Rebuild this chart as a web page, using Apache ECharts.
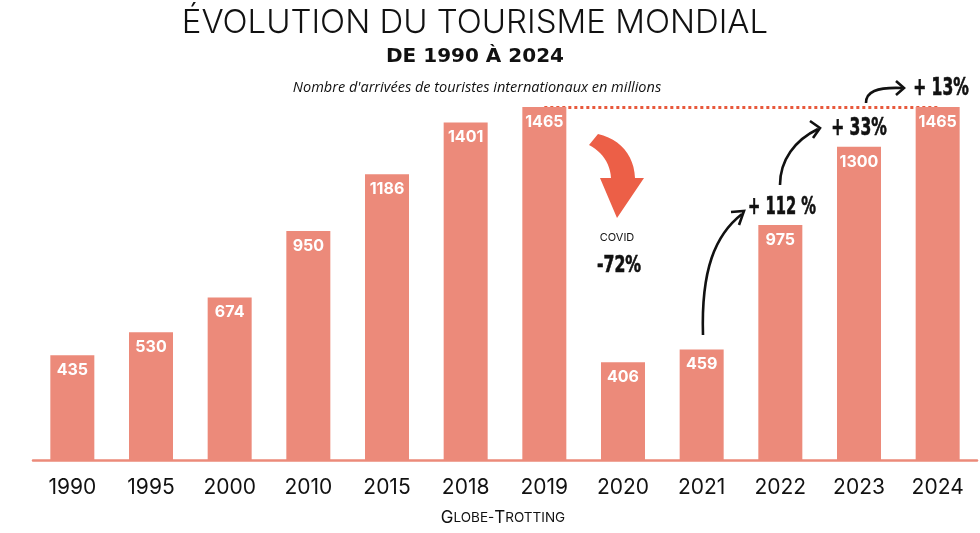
<!DOCTYPE html>
<html>
<head>
	<meta charset="utf-8" />
	<script src="https://cdn.jsdelivr.net/npm/echarts@6/dist/echarts.min.js"></script>
</head>
<body style="margin: 0; background-color: #ffffff">
	<div id="main" style="width: 980px; height: 533px;"></div>
</body>
<script type="text/javascript">
	var years = ['1990', '1995', '2000', '2010', '2015', '2018', '2019', '2020', '2021', '2022', '2023', '2024'];
	var arrivals = [435, 530, 674, 950, 1186, 1401, 1465, 406, 459, 975, 1300, 1465];
	var growth = ['+ 112 %', '+ 33%', '+ 13%'];

	var barColor = '#ec8a7a';
	var arrowRed = '#ec5f47';
	var geo = 'Inter, "Noto Sans", sans-serif';
	var narrow = '"DejaVu Sans Condensed", sans-serif';

	var myChart = echarts.init(document.getElementById('main'));

	// sample a cubic bezier into points (for the filled covid arrow)
	function bez(p0, p1, p2, p3, n) {
		var out = [];
		for (var i = 0; i <= n; i++) {
			var t = i / n, u = 1 - t;
			out.push([
				u * u * u * p0[0] + 3 * u * u * t * p1[0] + 3 * u * t * t * p2[0] + t * t * t * p3[0],
				u * u * u * p0[1] + 3 * u * u * t * p1[1] + 3 * u * t * t * p2[1] + t * t * t * p3[1]
			]);
		}
		return out;
	}

	var covidShape = [].concat(
		bez([598, 134], [620, 139], [634, 155], [635, 178], 12),
		[[644, 178], [617, 218], [600, 178], [611, 178]],
		bez([611, 178], [610, 163], [602, 152], [589, 145], 12)
	);

	function blackArrow(pts, tip, arm1, arm2) {
		return [{
			type: 'bezierCurve',
			shape: { x1: pts[0][0], y1: pts[0][1], cpx1: pts[1][0], cpy1: pts[1][1], cpx2: pts[2][0], cpy2: pts[2][1], x2: pts[3][0], y2: pts[3][1] },
			style: { stroke: '#111', lineWidth: 2.6, fill: null }
		}, {
			type: 'polyline',
			shape: { points: [arm1, tip, arm2] },
			style: { stroke: '#111', lineWidth: 2.6, fill: null, lineJoin: 'miter' }
		}];
	}

	// condensed heavy annotation text
	function note(x, y, txt, size, sx) {
		return {
			type: 'text', x: x, y: y, scaleX: sx,
			style: { text: txt, font: 'bold ' + size + 'px ' + narrow, fill: '#111', align: 'center', verticalAlign: 'middle', stroke: '#111', lineWidth: 0.6 }
		};
	}

	var graphics = [
		{
			type: 'text', x: 475, y: 23,
			style: { text: 'ÉVOLUTION DU TOURISME MONDIAL', font: '300 33px ' + geo, fill: '#111', align: 'center', verticalAlign: 'middle' }
		},
		{
			type: 'text', x: 475, y: 57,
			style: { text: 'DE 1990 À 2024', font: 'bold 20px "DejaVu Sans", sans-serif', fill: '#111', align: 'center', verticalAlign: 'middle' }
		},
		{
			type: 'text', x: 477, y: 88,
			style: { text: "Nombre d'arrivées de touristes internationaux en millions", font: 'italic 14.5px "Open Sans", sans-serif', fill: '#111', align: 'center', verticalAlign: 'middle' }
		},
		{
			type: 'text', x: 503, y: 518,
			style: {
				text: '{b|G}{s|LOBE-}{b|T}{s|ROTTING}',
				align: 'center', verticalAlign: 'middle',
				rich: {
					b: { fontFamily: geo, fontSize: 17, fill: '#111', color: '#111' },
					s: { fontFamily: geo, fontSize: 13.5, fill: '#111', color: '#111' }
				}
			}
		},
		{
			type: 'polygon',
			shape: { points: covidShape },
			style: { fill: arrowRed }
		},
		{
			type: 'text', x: 617, y: 238,
			style: { text: 'COVID', font: '11px ' + geo, fill: '#111', align: 'center', verticalAlign: 'middle' }
		},
		note(619, 266, '-72%', 23, 0.76)
	];

	graphics = graphics.concat(
		blackArrow([[703, 335], [701, 270], [715, 235], [742, 214]], [744, 211], [731, 212], [739, 225]),
		blackArrow([[780, 185], [780, 160], [795, 140], [818, 129]], [820, 128], [810, 121], [813, 138]),
		blackArrow([[866, 103], [866, 92], [876, 87], [902, 88]], [904, 88], [896, 81], [896, 95]),
		[note(782, 208, growth[0], 24, 0.68), note(859, 129, growth[1], 24, 0.72), note(941, 89, growth[2], 24, 0.72)]
	);

	option = {
		backgroundColor: '#ffffff',
		animation: false,
		grid: { left: 33, right: 3, top: 80, bottom: 73 },
		xAxis: {
			type: 'category',
			data: years,
			axisLine: { lineStyle: { color: barColor, width: 2.5 } },
			axisTick: { show: false },
			axisLabel: { color: '#111', fontSize: 21, fontFamily: geo, margin: 17 }
		},
		yAxis: {
			type: 'value',
			min: 0,
			max: 1577,
			show: false,
			splitLine: { show: false }
		},
		series: [{
			// host for the dotted 2019 level line, drawn under the bars
			type: 'line',
			data: [],
			z: 0,
			silent: true,
			markLine: {
				z: 0,
				silent: true,
				symbol: 'none',
				label: { show: false },
				lineStyle: { color: '#e8593c', width: 3, type: [3, 3] },
				data: [[{ coord: [years[6], arrivals[6]] }, { coord: [years[11], arrivals[11]] }]]
			}
		}, {
			type: 'bar',
			data: arrivals,
			barWidth: 44,
			z: 5,
			itemStyle: { color: barColor },
			label: {
				show: true,
				position: 'insideTop',
				distance: 7,
				color: '#ffffff',
				fontSize: 16,
				fontWeight: 'bold',
				fontFamily: geo
			}
		}],
		graphic: graphics
	};

	myChart.setOption(option);
</script>
</html>
